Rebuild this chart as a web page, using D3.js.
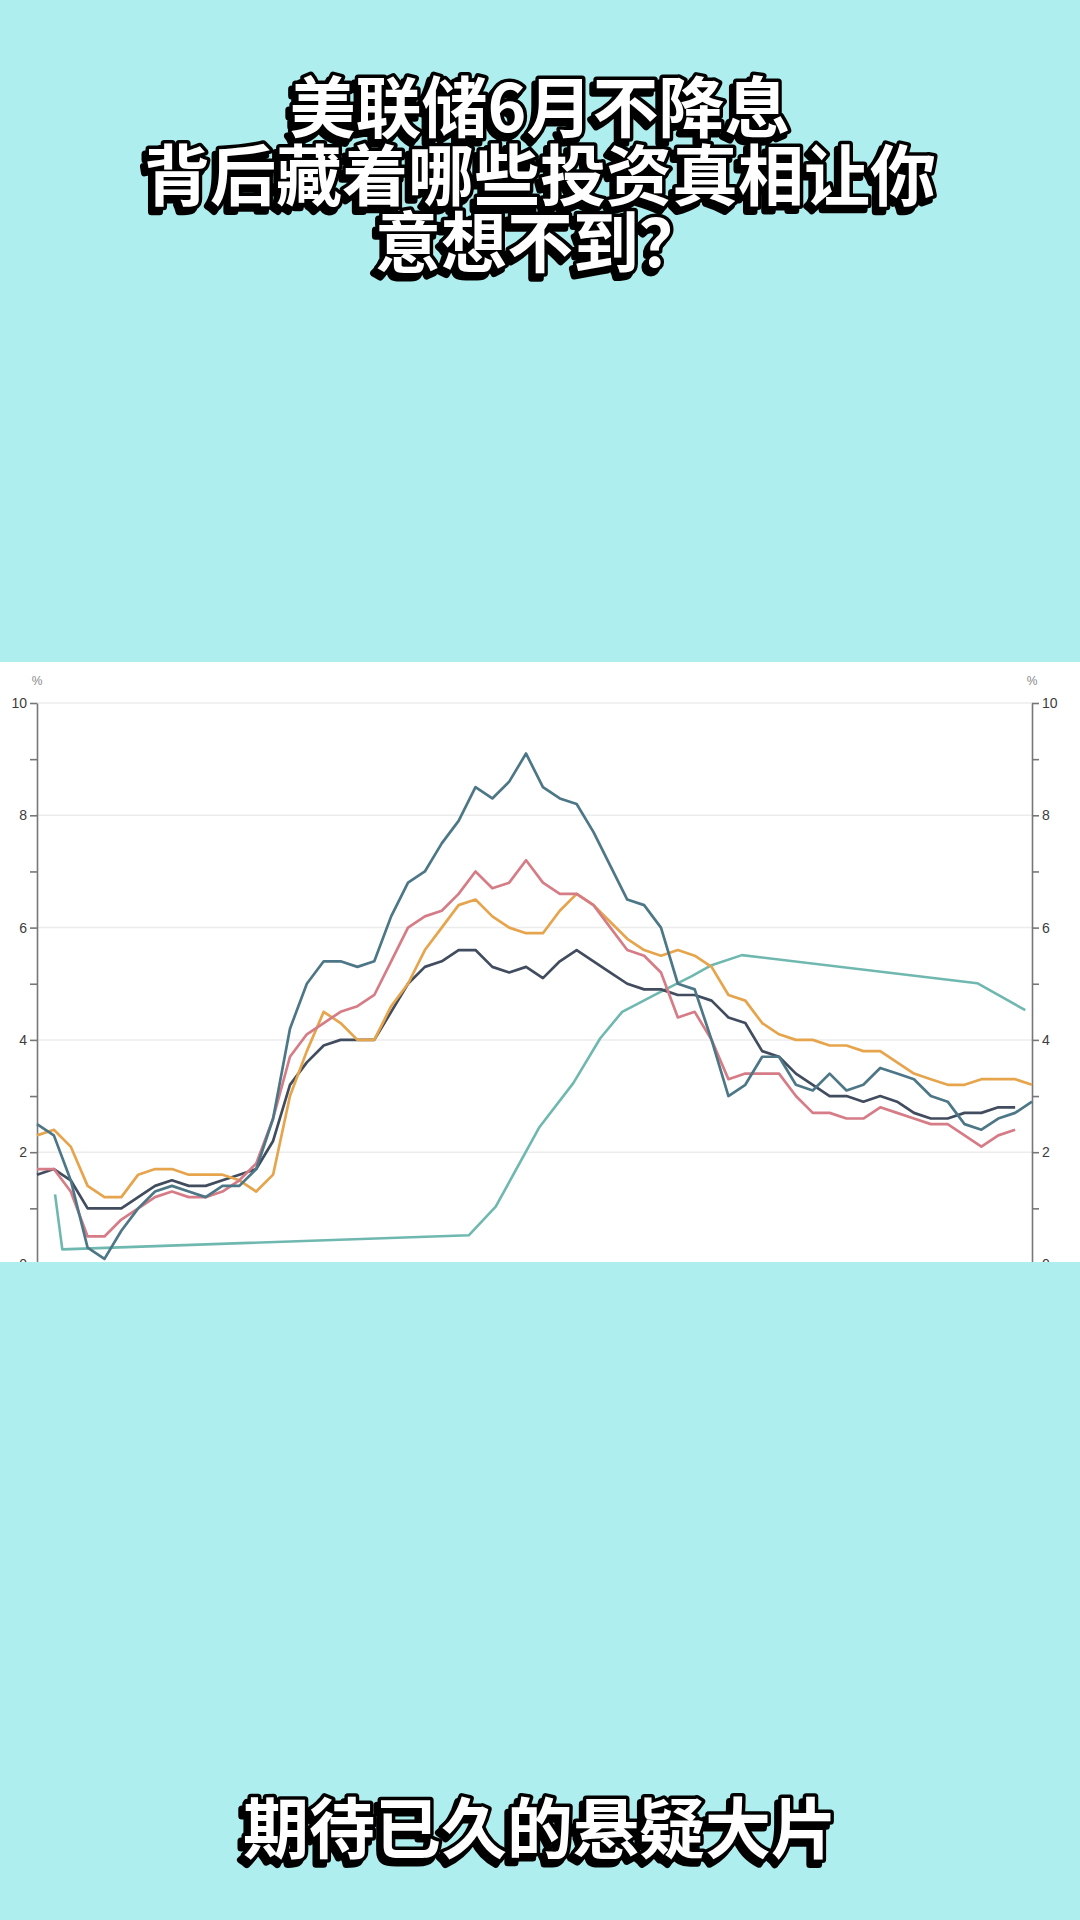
<!DOCTYPE html>
<html>
<head>
<meta charset="utf-8">
<script src="https://cdn.jsdelivr.net/npm/d3@7"></script>
<style>
  html, body { margin: 0; padding: 0; background: #afeeee; }
  svg { display: block; }
</style>
</head>
<body>
<svg id="chart" width="1080" height="1920"></svg>
<script>
// ---------- data (monthly, Jan 2020 = index 0) ----------
const titleLines = ["美联储6月不降息", "背后藏着哪些投资真相让你", "意想不到？"];
const caption = "期待已久的悬疑大片";
const yTicks = [0, 1, 2, 3, 4, 5, 6, 7, 8, 9, 10];
const yLabelTicks = [0, 2, 4, 6, 8, 10];
const unitLabel = "%";

// dark slate-teal series (peaks at 9.1)
const seriesCPI = [2.5, 2.3, 1.5, 0.3, 0.1, 0.6, 1.0, 1.3, 1.4, 1.3, 1.2, 1.4,
  1.4, 1.7, 2.6, 4.2, 5.0, 5.4, 5.4, 5.3, 5.4, 6.2, 6.8, 7.0,
  7.5, 7.9, 8.5, 8.3, 8.6, 9.1, 8.5, 8.3, 8.2, 7.7, 7.1, 6.5,
  6.4, 6.0, 5.0, 4.9, 4.0, 3.0, 3.2, 3.7, 3.7, 3.2, 3.1, 3.4,
  3.1, 3.2, 3.5, 3.4, 3.3, 3.0, 2.9, 2.5, 2.4, 2.6, 2.7, 2.9];
// orange series
const seriesCore = [2.3, 2.4, 2.1, 1.4, 1.2, 1.2, 1.6, 1.7, 1.7, 1.6, 1.6, 1.6,
  1.5, 1.3, 1.6, 3.0, 3.8, 4.5, 4.3, 4.0, 4.0, 4.6, 5.0, 5.6,
  6.0, 6.4, 6.5, 6.2, 6.0, 5.9, 5.9, 6.3, 6.6, 6.4, 6.1, 5.8,
  5.6, 5.5, 5.6, 5.5, 5.3, 4.8, 4.7, 4.3, 4.1, 4.0, 4.0, 3.9,
  3.9, 3.8, 3.8, 3.6, 3.4, 3.3, 3.2, 3.2, 3.3, 3.3, 3.3, 3.2];
// pink series
const seriesPCE = [1.7, 1.7, 1.3, 0.5, 0.5, 0.8, 1.0, 1.2, 1.3, 1.2, 1.2, 1.3,
  1.5, 1.8, 2.6, 3.7, 4.1, 4.3, 4.5, 4.6, 4.8, 5.4, 6.0, 6.2,
  6.3, 6.6, 7.0, 6.7, 6.8, 7.2, 6.8, 6.6, 6.6, 6.4, 6.0, 5.6,
  5.5, 5.2, 4.4, 4.5, 4.0, 3.3, 3.4, 3.4, 3.4, 3.0, 2.7, 2.7,
  2.6, 2.6, 2.8, 2.7, 2.6, 2.5, 2.5, 2.3, 2.1, 2.3, 2.4];
// dark navy series
const seriesCorePCE = [1.6, 1.7, 1.5, 1.0, 1.0, 1.0, 1.2, 1.4, 1.5, 1.4, 1.4, 1.5,
  1.6, 1.7, 2.2, 3.2, 3.6, 3.9, 4.0, 4.0, 4.0, 4.5, 5.0, 5.3,
  5.4, 5.6, 5.6, 5.3, 5.2, 5.3, 5.1, 5.4, 5.6, 5.4, 5.2, 5.0,
  4.9, 4.9, 4.8, 4.8, 4.7, 4.4, 4.3, 3.8, 3.7, 3.4, 3.2, 3.0,
  3.0, 2.9, 3.0, 2.9, 2.7, 2.6, 2.6, 2.7, 2.7, 2.8, 2.8];
// light teal series (policy rate), positions in month index
const rateMonth = [1.07, 1.5, 25.6, 27.2, 29.8, 31.8, 33.4, 34.7, 36.8, 38.8, 40.0, 41.8, 55.75, 58.6];
const rateValue = [1.25, 0.27, 0.52, 1.03, 2.45, 3.23, 4.03, 4.5, 4.83, 5.13, 5.33, 5.51, 5.01, 4.53];

// ---------- drawing ----------
const svg = d3.select("#chart");
const W = 1080, H = 1920;
const panelTop = 662, panelBottom = 1262;

const defs = svg.append("defs");
defs.append("clipPath").attr("id", "panelClip")
  .append("rect").attr("x", 0).attr("y", panelTop).attr("width", W).attr("height", panelBottom - panelTop);
const shadow = defs.append("filter").attr("id", "hardShadow")
  .attr("x", "-10%").attr("y", "-20%").attr("width", "120%").attr("height", "150%");
shadow.append("feDropShadow").attr("dx", -4).attr("dy", 5).attr("stdDeviation", 0)
  .attr("flood-color", "#000").attr("flood-opacity", 1);

svg.append("rect").attr("width", W).attr("height", H).attr("fill", "#afeeee");
svg.append("rect").attr("x", 0).attr("y", panelTop).attr("width", W)
  .attr("height", panelBottom - panelTop).attr("fill", "#ffffff");

const x = d3.scaleLinear().domain([0, 59]).range([37, 1032]);
const y = d3.scaleLinear().domain([0, 10]).range([1264.5, 703]);

const g = svg.append("g").attr("clip-path", "url(#panelClip)");

// gridlines
g.append("g").selectAll("line").data(yLabelTicks.filter(d => d > 0)).join("line")
  .attr("x1", x(0)).attr("x2", x(59))
  .attr("y1", d => y(d)).attr("y2", d => y(d))
  .attr("stroke", "#ececec").attr("stroke-width", 1.5);

const fmt = d => (yLabelTicks.includes(d) ? d : "");
const leftAxis = g.append("g").attr("transform", `translate(${x(0)},0)`)
  .call(d3.axisLeft(y).tickValues(yTicks).tickSize(7).tickSizeOuter(0).tickPadding(3).tickFormat(fmt));
const rightAxis = g.append("g").attr("transform", `translate(${x(59)},0)`)
  .call(d3.axisRight(y).tickValues(yTicks).tickSize(7).tickSizeOuter(0).tickPadding(3).tickFormat(fmt));
[leftAxis, rightAxis].forEach(a => {
  a.select(".domain").attr("stroke", "#777").attr("stroke-width", 1.6);
  a.selectAll(".tick line").attr("stroke", "#777").attr("stroke-width", 1.6);
  a.selectAll(".tick text").attr("fill", "#3c3c3c").attr("font-size", 14)
    .attr("font-family", "'Liberation Sans', Arial, sans-serif");
});

g.append("text").attr("x", x(0)).attr("y", 685).attr("text-anchor", "middle")
  .attr("font-size", 12).attr("fill", "#888").attr("font-family", "'Liberation Sans', Arial, sans-serif")
  .text(unitLabel);
g.append("text").attr("x", x(59)).attr("y", 685).attr("text-anchor", "middle")
  .attr("font-size", 12).attr("fill", "#888").attr("font-family", "'Liberation Sans', Arial, sans-serif")
  .text(unitLabel);

const line = d3.line().x((d, i) => x(i)).y(d => y(d));
const rateLine = d3.line().x(d => x(d[0])).y(d => y(d[1]));

g.append("path").datum(d3.zip(rateMonth, rateValue))
  .attr("d", rateLine).attr("fill", "none").attr("stroke", "#6fb8b0").attr("stroke-width", 2.6)
  .attr("stroke-linejoin", "round");

const series = [
  { data: seriesCorePCE, color: "#414c5e" },
  { data: seriesCore, color: "#e6a54c" },
  { data: seriesPCE, color: "#d67c86" },
  { data: seriesCPI, color: "#4d7786" }
];
series.forEach(s => {
  g.append("path").datum(s.data).attr("d", line)
    .attr("fill", "none").attr("stroke", s.color).attr("stroke-width", 2.7)
    .attr("stroke-linejoin", "round");
});

// ---------- headline texts (one text element, lines as tspans) ----------
function outlinedText(lines, cx, cy0, size, lineGap) {
  const fam = "'Noto Sans CJK SC', 'Noto Sans', sans-serif";
  const t = svg.append("text")
    .attr("text-anchor", "middle").attr("dominant-baseline", "central")
    .attr("font-family", fam).attr("font-weight", 700).attr("font-size", size)
    .attr("fill", "#fff").attr("stroke", "#000").attr("stroke-width", 7)
    .attr("stroke-linejoin", "round").attr("paint-order", "stroke")
    .attr("filter", "url(#hardShadow)");
  t.selectAll("tspan").data(lines).join("tspan")
    .attr("x", cx).attr("y", (d, i) => cy0 + i * lineGap)
    .attr("dominant-baseline", "central")
    .text(d => d);
}
outlinedText(titleLines, 540, 103, 66, 67.5);
outlinedText([caption], 540, 1824, 66, 0);
</script>
</body>
</html>
